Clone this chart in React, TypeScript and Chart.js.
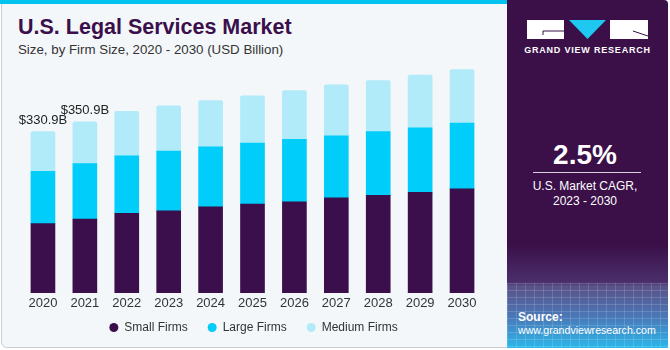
import React, { useEffect, useRef } from "react";
import { Chart, registerables } from "chart.js";

Chart.register(...registerables);

const years = ["2020", "2021", "2022", "2023", "2024", "2025", "2026", "2027", "2028", "2029", "2030"];
const smallFirms = [142.4, 151.8, 163.3, 168.6, 176.8, 182.4, 187.1, 195.3, 200.2, 206.4, 213.7];
const largeFirms = [107.4, 113.5, 118.0, 122.3, 123.0, 125.0, 127.9, 127.0, 131.1, 132.4, 134.6];
const mediumFirms = [81.1, 85.6, 91.6, 92.8, 95.0, 97.0, 100.4, 104.5, 104.5, 108.0, 110.0];
const labeledYears = ["2020", "2021"];

const FONT = "'Liberation Sans', Arial, sans-serif";
const PURPLE = "#3b0f4b";

const totalLabels = {
  id: "totalLabels",
  afterDatasetsDraw(chart: any) {
    const ctx = chart.ctx;
    const n = chart.data.datasets.length;
    const topMeta = chart.getDatasetMeta(n - 1);
    ctx.save();
    ctx.font = `13px ${FONT}`;
    ctx.fillStyle = "#222";
    ctx.textAlign = "center";
    ctx.textBaseline = "alphabetic";
    chart.data.labels.forEach((lab: string, i: number) => {
      if (!labeledYears.includes(lab)) return;
      let sum = 0;
      chart.data.datasets.forEach((d: any) => (sum += d.data[i]));
      const el = topMeta.data[i];
      ctx.fillText("$" + sum.toFixed(1) + "B", el.x, el.y - 8);
    });
    ctx.restore();
  },
};

// legend drawn on the canvas from the datasets' labels and colours
const bottomLegend = {
  id: "bottomLegend",
  afterDraw(chart: any) {
    const ctx = chart.ctx;
    const r = 4.5;
    const gapText = 6;
    const gapItem = 20;
    ctx.save();
    ctx.font = `12px ${FONT}`;
    const items = chart.data.datasets.map((d: any) => ({
      text: d.label,
      color: d.backgroundColor,
      w: 2 * r + gapText + ctx.measureText(d.label).width,
    }));
    const total = items.reduce((s: number, it: any) => s + it.w, 0) + gapItem * (items.length - 1);
    let x = (chart.width - total) / 2;
    const y = chart.chartArea.bottom + 34.5;
    ctx.textBaseline = "middle";
    ctx.textAlign = "left";
    items.forEach((it: any) => {
      ctx.beginPath();
      ctx.fillStyle = it.color;
      ctx.arc(x + r, y, r, 0, Math.PI * 2);
      ctx.fill();
      ctx.fillStyle = "#333";
      ctx.fillText(it.text, x + 2 * r + gapText, y);
      x += it.w + gapItem;
    });
    ctx.restore();
  },
};

function BarChart() {
  const ref = useRef<HTMLCanvasElement | null>(null);
  useEffect(() => {
    if (!ref.current) return;
    const chart = new Chart(ref.current, {
      type: "bar",
      data: {
        labels: years,
        datasets: [
          { label: "Small Firms", data: smallFirms, backgroundColor: PURPLE, barThickness: 24 },
          { label: "Large Firms", data: largeFirms, backgroundColor: "#00cdf9", barThickness: 24 },
          {
            label: "Medium Firms",
            data: mediumFirms,
            backgroundColor: "#b1eaf9",
            barThickness: 24,
            borderRadius: { topLeft: 2, topRight: 2, bottomLeft: 0, bottomRight: 0 },
            borderSkipped: false,
          },
        ],
      },
      options: {
        animation: false,
        responsive: false,
        maintainAspectRatio: false,
        layout: { padding: { top: 59, left: 22, right: 24, bottom: 35 } },
        scales: {
          x: {
            stacked: true,
            grid: { display: false, drawTicks: false },
            border: { display: false },
            ticks: { color: "#333", font: { family: FONT, size: 13 }, padding: 3 },
            afterFit(scale: any) {
              scale.height = 20;
            },
          },
          y: {
            stacked: true,
            display: false,
            min: 0,
            max: 480,
          },
        },
        plugins: {
          tooltip: { enabled: false },
          legend: { display: false },
        },
      },
      plugins: [totalLabels, bottomLegend],
    });
    return () => chart.destroy();
  }, []);
  return (
    <canvas
      ref={ref}
      width={507}
      height={348}
      style={{ position: "absolute", left: 0, top: 0, width: 507, height: 348 }}
    />
  );
}

export default function App() {
  return (
    <div
      style={{
        position: "fixed",
        left: 0,
        top: 0,
        width: 670,
        height: 350,
        background: "#ffffff",
        overflow: "hidden",
        fontFamily: FONT,
      }}
    >
      {/* left card */}
      <div
        style={{
          position: "absolute",
          left: 1,
          top: 0,
          width: 520,
          height: 348,
          background: "#f3f7fa",
          border: "1px solid #c9ccd0",
          borderRadius: 6,
          boxSizing: "border-box",
        }}
      />
      <div style={{ position: "absolute", left: 0, top: 0, width: 520, height: 4, background: "#00c3ef" }} />
      <div
        style={{
          position: "absolute",
          left: 18,
          top: 15,
          fontSize: 21.5,
          fontWeight: 700,
          color: PURPLE,
          whiteSpace: "nowrap",
          lineHeight: "24px",
        }}
      >
        U.S. Legal Services Market
      </div>
      <div
        style={{
          position: "absolute",
          left: 18,
          top: 42,
          fontSize: 13.3,
          color: "#333",
          whiteSpace: "nowrap",
          lineHeight: "16px",
        }}
      >
        Size, by Firm Size, 2020 - 2030 (USD Billion)
      </div>
      <BarChart />
      {/* right panel */}
      <div
        style={{
          position: "absolute",
          left: 507,
          top: 0,
          width: 161,
          height: 348,
          background: "#3b1049",
          borderTopRightRadius: 4,
          overflow: "hidden",
        }}
      >
        <div
          style={{
            position: "absolute",
            left: 0,
            top: 245,
            width: 161,
            height: 103,
            background:
              "linear-gradient(to bottom, #3b1049 0%, #4a2f6c 36%, #5a5288 40%, #4a78b8 70%, #2bb8ea 100%)",
          }}
        />
        <div
          style={{
            position: "absolute",
            left: 0,
            top: 283,
            width: 161,
            height: 65,
            backgroundImage:
              "repeating-linear-gradient(to right, rgba(255,255,255,0.14) 0px, rgba(255,255,255,0.14) 1px, transparent 1px, transparent 9px), repeating-linear-gradient(to bottom, rgba(255,255,255,0.14) 0px, rgba(255,255,255,0.14) 1px, transparent 1px, transparent 7px)",
          }}
        />
        <svg width={122} height={20} style={{ position: "absolute", left: 20, top: 20 }}>
          <rect x={0} y={0} width={37} height={19} fill="#ffffff" />
          <path d="M16 11 H37 M16 11 V15" stroke="#3b1049" strokeWidth={1} fill="none" />
          <polygon points="42,0 79,0 60.5,19" fill="#1ec8f0" />
          <rect x={83} y={0} width={38} height={19} fill="#ffffff" />
          <path d="M106 11 L121 16" stroke="#3b1049" strokeWidth={1} fill="none" />
        </svg>
        <div
          style={{
            position: "absolute",
            left: 0,
            top: 45,
            width: 161,
            textAlign: "center",
            color: "#fff",
            fontSize: 9,
            fontWeight: 700,
            letterSpacing: 0.8,
            whiteSpace: "nowrap",
          }}
        >
          GRAND VIEW RESEARCH
        </div>
        <div
          style={{
            position: "absolute",
            left: 0,
            top: 139,
            width: 156,
            textAlign: "center",
            color: "#fff",
            fontSize: 28,
            fontWeight: 700,
            lineHeight: "32px",
          }}
        >
          2.5%
        </div>
        <div style={{ position: "absolute", left: 26, top: 172, width: 108, height: 1, background: "#d8d0de" }} />
        <div
          style={{
            position: "absolute",
            left: 0,
            top: 179,
            width: 156,
            textAlign: "center",
            color: "#fff",
            fontSize: 12,
            lineHeight: "15px",
          }}
        >
          U.S. Market CAGR,
          <br />
          2023 - 2030
        </div>
        <div
          style={{
            position: "absolute",
            left: 11,
            top: 311,
            color: "#fff",
            fontSize: 10.6,
            lineHeight: "13px",
            whiteSpace: "nowrap",
          }}
        >
          <b style={{ fontSize: 12 }}>Source:</b>
          <br />
          www.grandviewresearch.com
        </div>
      </div>
    </div>
  );
}
